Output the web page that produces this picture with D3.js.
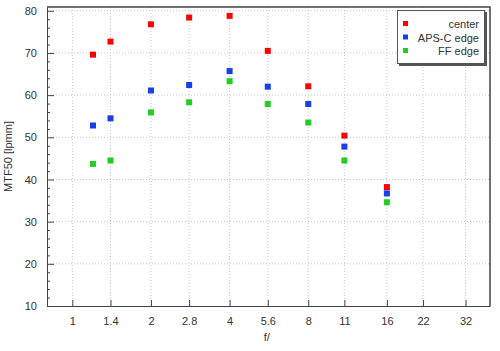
<!DOCTYPE html>
<html>
<head>
<meta charset="utf-8">
<script src="https://cdn.jsdelivr.net/npm/d3@7"></script>
<style>
  body { margin: 0; background: #fff; }
  text { font-family: "Liberation Sans", Arial, sans-serif; fill: #333; }
</style>
</head>
<body>
<div id="chart"></div>
<script>
// f-stops and MTF50 readings
var apertures = [1.2, 1.4, 2, 2.8, 4, 5.6, 8, 11, 16];
var centerVals = [69.6, 72.7, 76.8, 78.4, 78.8, 70.5, 62.1, 50.4, 38.2];
var apscVals = [52.8, 54.5, 61.1, 62.4, 65.7, 62.0, 57.9, 47.8, 36.7];
var ffVals = [43.7, 44.5, 55.9, 58.3, 63.3, 57.9, 53.5, 44.5, 34.6];
var xTicks = [1, 1.4, 2, 2.8, 4, 5.6, 8, 11, 16, 22, 32];
var yTicks = [10, 20, 30, 40, 50, 60, 70, 80];
var seriesNames = ["center", "APS-C edge", "FF edge"];
var seriesColors = ["#ff0000", "#1a3ee8", "#22cc22"];

function draw() {
    var w = 500, h = 351;
    var pLeft = 47, pRight = 490, pTop = 7, pBottom = 306;

    var svg = d3.select("#chart").append("svg")
        .attr("width", w)
        .attr("height", h);

    var x = d3.scaleLog().domain([0.8, 39.7]).range([pLeft, pRight]);
    var y = d3.scaleLinear().domain([10, 80.9]).range([pBottom, pTop]);

    // grid
    svg.append("g").selectAll("line")
        .data(xTicks).enter().append("line")
        .attr("x1", function(d) { return x(d); })
        .attr("x2", function(d) { return x(d); })
        .attr("y1", pTop).attr("y2", pBottom)
        .attr("stroke", "#c8c8c8")
        .attr("stroke-dasharray", "1 2");
    svg.append("g").selectAll("line")
        .data(yTicks.slice(1)).enter().append("line")
        .attr("x1", pLeft).attr("x2", pRight)
        .attr("y1", function(d) { return y(d); })
        .attr("y2", function(d) { return y(d); })
        .attr("stroke", "#c8c8c8")
        .attr("stroke-dasharray", "1 2");

    // axes (ticks pointing inward)
    var xAxis = d3.axisBottom(x).tickValues(xTicks)
        .tickFormat(function(d) { return d; })
        .tickSizeInner(-6).tickSizeOuter(0).tickPadding(11);
    svg.append("g")
        .attr("transform", "translate(0," + pBottom + ")")
        .call(xAxis);

    var minorY = d3.range(10, 81, 2).filter(function(d) { return d % 10 !== 0; });
    svg.append("g")
        .attr("transform", "translate(" + pLeft + ",0)")
        .call(d3.axisLeft(y).tickValues(minorY).tickSizeInner(-3).tickSizeOuter(0).tickFormat(""))
        .select(".domain").remove();

    var yAxis = d3.axisLeft(y).tickValues(yTicks)
        .tickSizeInner(-7).tickSizeOuter(0).tickPadding(10);
    svg.append("g")
        .attr("transform", "translate(" + pLeft + ",0)")
        .call(yAxis);

    svg.selectAll(".domain, .tick line").attr("stroke", "#444");
    svg.selectAll(".tick text").attr("font-size", 11).attr("fill", "#333")
        .style("font-family", "Liberation Sans, Arial, sans-serif");

    // frame top + right
    svg.append("path")
        .attr("d", "M" + pLeft + "," + pTop + "H" + pRight + "V" + pBottom)
        .attr("fill", "none")
        .attr("stroke", "#444")
        .attr("stroke-width", 1.5);

    // axis titles
    svg.append("text")
        .attr("transform", "translate(12," + ((pTop + pBottom) / 2) + ") rotate(-90)")
        .attr("text-anchor", "middle")
        .attr("font-size", 11)
        .text("MTF50 [lpmm]");
    svg.append("text")
        .attr("x", x(5.6) - 1)
        .attr("y", 341)
        .attr("text-anchor", "middle")
        .attr("font-size", 11)
        .text("f/");

    // points
    var allSeries = [centerVals, apscVals, ffVals];
    var s = 6;
    allSeries.forEach(function(vals, i) {
        svg.append("g").selectAll("rect")
            .data(vals).enter().append("rect")
            .attr("x", function(d, j) { return x(apertures[j]) - s / 2; })
            .attr("y", function(d) { return y(d) - s / 2; })
            .attr("width", s).attr("height", s)
            .attr("fill", seriesColors[i]);
    });

    // legend
    var lg = svg.append("g").attr("transform", "translate(397,10)");
    lg.append("rect").attr("x", 2).attr("y", 2).attr("width", 88).attr("height", 54).attr("fill", "#555");
    lg.append("rect").attr("x", 0.5).attr("y", 0.5).attr("width", 87).attr("height", 53)
        .attr("fill", "#fff").attr("stroke", "#555");
    seriesNames.forEach(function(name, i) {
        lg.append("rect")
            .attr("x", 6).attr("y", 11 + i * 13.5)
            .attr("width", 5).attr("height", 5)
            .attr("fill", seriesColors[i]);
        lg.append("text")
            .attr("x", 82).attr("y", 18 + i * 13.5)
            .attr("text-anchor", "end")
            .attr("font-size", 11)
            .text(name);
    });
}

draw();
</script>
</body>
</html>
